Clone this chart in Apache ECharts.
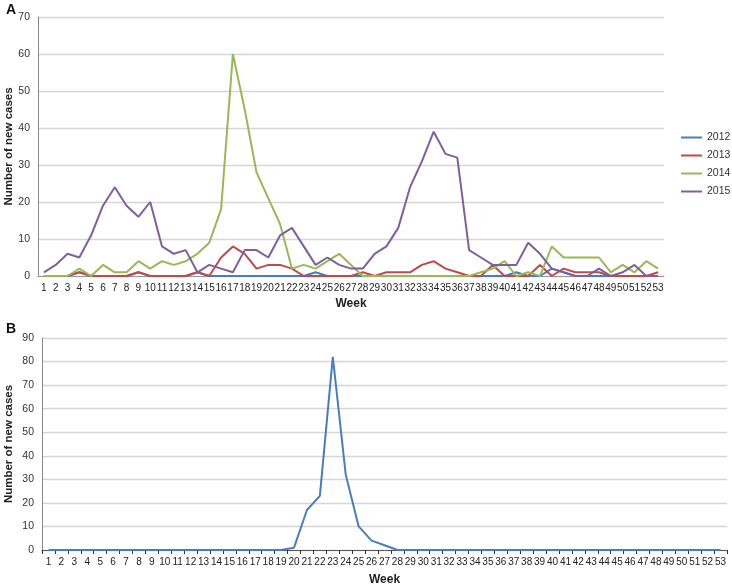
<!DOCTYPE html>
<html>
<head>
<meta charset="utf-8">
<script src="https://cdn.jsdelivr.net/npm/echarts@6/dist/echarts.min.js"></script>
<style>
  html, body { margin: 0; padding: 0; background: #fff; }
  #chart { width: 732px; height: 586px; }
</style>
</head>
<body>
<div id="chart"></div>
<script>
// weeks 1..53
const weeks = []
for (let i = 1; i <= 53; i++) weeks.push(String(i))

// panel A, cases per week by year
const cases2012 = [0,0,0,1,0,0,0,0,1,0,0,0,0,1,0,0,0,0,0,0,0,0,0,1,0,0,0,0,0,0,0,0,0,0,0,0,0,0,0,0,1,0,0,2,1,0,0,0,0,0,0,0,0]
const cases2013 = [0,0,0,1,0,0,0,0,1,0,0,0,0,1,0,5,8,6,2,3,3,2,0,0,0,0,0,1,0,1,1,1,3,4,2,1,0,0,3,0,0,0,3,0,2,1,1,1,0,0,0,0,1]
const cases2014 = [0,0,0,2,0,3,1,1,4,2,4,3,4,6,9,18,60,45,28,21,14,2,3,2,4,6,3,0,0,0,0,0,0,0,0,0,0,1,2,4,0,1,0,8,5,5,5,5,1,3,1,4,2]
const cases2015 = [1,3,6,5,11,19,24,19,16,20,8,6,7,1,3,2,1,7,7,5,11,13,8,3,5,3,2,2,6,8,13,24,31,39,33,32,7,5,3,3,3,9,6,2,1,0,0,2,0,1,3,0,0]

// panel B
const casesB = [0,0,0,0,0,0,0,0,0,0,0,0,0,0,0,0,0,0,0,1,17,23,82,32,10,4,2,0,0,0,0,0,0,0,0,0,0,0,0,0,0,0,0,0,0,0,0,0,0,0,0,0,0]

const colors = ['#4a7ebb', '#be4b48', '#98b954', '#7d60a0']
const font = 'Liberation Sans, Arial, sans-serif'

const chart = echarts.init(document.getElementById('chart'))

function xAxis(gridIndex, showTicks, gap) {
    return {
        type: 'category', gridIndex: gridIndex, data: weeks,
        name: 'Week', nameLocation: 'middle', nameGap: gap, nameMoveOverlap: false,
        nameTextStyle: { fontFamily: font, fontWeight: 'bold', fontSize: 12, color: '#222' },
        axisLine: { lineStyle: { color: showTicks ? '#555' : '#999', width: 1 } },
        axisTick: { show: showTicks, length: 4, lineStyle: { color: '#333' } },
        axisLabel: { interval: 0, fontFamily: font, fontSize: 10, color: '#222', margin: 7 }
    }
}
function yAxis(gridIndex, max, gap) {
    return {
        type: 'value', gridIndex: gridIndex, min: 0, max: max, interval: 10,
        name: 'Number of new cases', nameLocation: 'middle', nameGap: gap, nameMoveOverlap: false,
        nameTextStyle: { fontFamily: font, fontWeight: 'bold', fontSize: 11.5, color: '#222' },
        axisLine: { show: true, lineStyle: { color: '#888' } },
        axisTick: { show: false },
        axisLabel: { fontFamily: font, fontSize: 10.5, color: '#333', margin: 8 },
        splitLine: { lineStyle: { color: '#d6d6d6', width: 1.3 } }
    }
}
function line(name, data, color, idx) {
    return {
        name: name, type: 'line', data: data, xAxisIndex: idx, yAxisIndex: idx,
        symbol: 'none', lineStyle: { color: color, width: 2 }, itemStyle: { color: color },
        animation: false
    }
}

chart.setOption({
    backgroundColor: '#fff',
    title: [
        { text: 'A', left: 1, top: -2, textStyle: { fontFamily: font, fontSize: 14, fontWeight: 'bold', color: '#111' } },
        { text: 'B', left: 1, top: 317, textStyle: { fontFamily: font, fontSize: 14, fontWeight: 'bold', color: '#111' } }
    ],
    legend: {
        orient: 'vertical', left: 676, top: 127, itemGap: 7,
        icon: 'rect', itemWidth: 21, itemHeight: 2,
        textStyle: { fontFamily: font, fontSize: 10.5, color: '#333' },
        data: ['2012', '2013', '2014', '2015']
    },
    grid: [
        { left: 38, right: 68, top: 17, bottom: 310, outerBoundsMode: 'none' },
        { left: 42, right: 5, top: 338, bottom: 36, outerBoundsMode: 'none' }
    ],
    xAxis: [xAxis(0, false, 22), xAxis(1, true, 24)],
    yAxis: [yAxis(0, 70, 23), yAxis(1, 90, 27)],
    series: [
        line('2012', cases2012, colors[0], 0),
        line('2013', cases2013, colors[1], 0),
        line('2014', cases2014, colors[2], 0),
        line('2015', cases2015, colors[3], 0),
        line('B', casesB, colors[0], 1)
    ]
})
</script>
</body>
</html>
